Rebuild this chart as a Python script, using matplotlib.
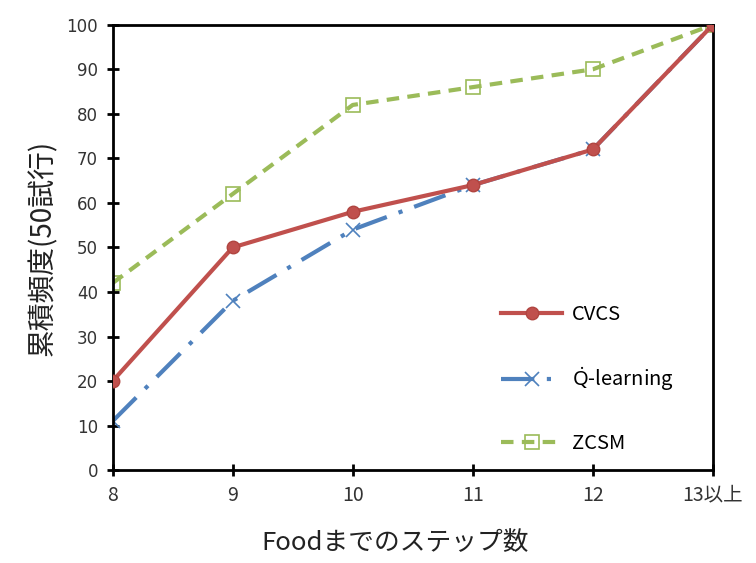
import matplotlib.pyplot as plt

plt.rcParams['font.family'] = ['Noto Sans CJK JP', 'DejaVu Sans']
plt.rcParams['mathtext.fontset'] = 'custom'
plt.rcParams['mathtext.rm'] = 'Noto Sans'

# data
steps = ['8', '9', '10', '11', '12', '13以上']
cvcs = [20, 50, 58, 64, 72, 100]
qlearning = [11, 38, 54, 64, 72, 100]
zcsm = [42, 62, 82, 86, 90, 100]

fig = plt.figure(figsize=(7.56, 5.63), dpi=100)
ax = fig.add_axes([0.149, 0.165, 0.794, 0.791])

x = range(len(steps))
ax.plot(x, cvcs, color='#C0504D', lw=3, marker='o', ms=9,
        mfc='#C0504D', mec='#B04540', label='CVCS', zorder=3)
ax.plot(x, qlearning, color='#4F81BD', lw=3, ls=(0, (8, 3, 1, 3)),
        marker='x', ms=10, mew=1.2, mec='#4F81BD',
        label=r'$\dot{\mathrm{Q}}$-learning', zorder=2)
ax.plot(x, zcsm, color='#9BBB59', lw=3, ls=(0, (3, 2)), marker='s', ms=10,
        mfc='none', mec='#9BBB59', mew=1.2, label='ZCSM', zorder=1)

ax.set_xlim(0, len(steps) - 1)
ax.set_ylim(0, 100)
ax.set_yticks(range(0, 101, 10))
ax.set_xticks(list(x))
ax.set_xticklabels(steps)
for lab in ax.get_xticklabels():
    lab.set_fontsize(14)
    lab.set_color('#333333')
for lab in ax.get_yticklabels():
    lab.set_family('DejaVu Sans')
    lab.set_fontsize(12)
    lab.set_color('#333333')

for s in ax.spines.values():
    s.set_linewidth(2)
ax.tick_params(direction='inout', length=9, width=2)
ax.tick_params(axis='y', pad=6)
ax.tick_params(axis='x', pad=6)

ax.set_ylabel('累積頻度(50試行)', fontsize=20, labelpad=6, color='#222222')
ax.set_xlabel('Foodまでのステップ数', fontsize=18.5, labelpad=14, color='#222222')
ax.xaxis.set_label_coords(0.47, -0.135)

ax.legend(loc='lower right', bbox_to_anchor=(0.965, -0.005), frameon=False,
          fontsize=14.5, labelspacing=2.0, handlelength=3.0, handletextpad=0.5)

fig.savefig('out.png', dpi=100)
